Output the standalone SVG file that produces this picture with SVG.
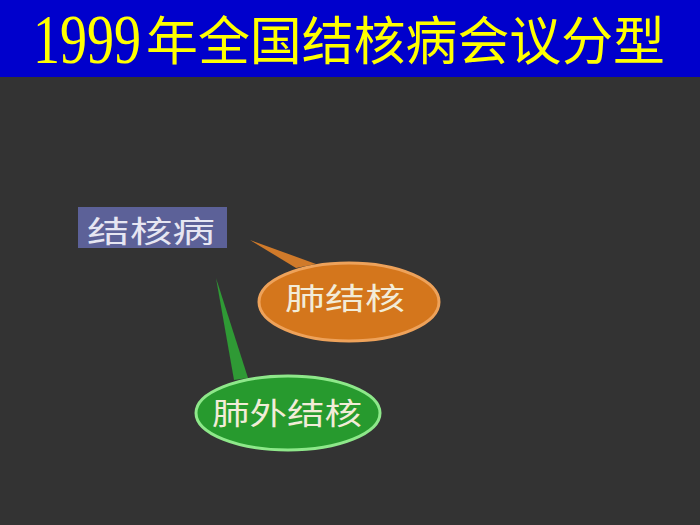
<svg xmlns="http://www.w3.org/2000/svg" width="700" height="525" viewBox="0 0 700 525">
<defs>
<style>
.title{font-family:"Noto Sans CJK SC","Liberation Serif",serif;font-size:52px;fill:#ffff00;}
.num{font-family:"Liberation Serif","Noto Sans CJK SC",serif;font-size:54px;fill:#ffff00;}
.lbl{font-family:"Noto Sans CJK SC","Noto Sans",sans-serif;font-size:30px;fill:#f2ecd8;}
</style>
</defs>
<rect x="0" y="0" width="700" height="525" fill="#333333"/>
<g id="title">
<rect x="0" y="0" width="700" height="77" fill="#0000cc"/>
<text class="num" x="0" y="0" transform="translate(33,63) scale(1,1.3)">1999</text>
<text class="title" x="146" y="60" textLength="519" lengthAdjust="spacingAndGlyphs">年全国结核病会议分型</text>
</g>
<g id="connectors">
<polygon points="250,240 296,268 316,264" fill="#d07a2a"/>
<polygon points="216,278 234,380 248,378" fill="#2f9a35"/>
</g>
<g id="node-root">
<rect x="78" y="207" width="149" height="41" fill="#5c6198"/>
<text class="lbl" x="87" y="242" textLength="128" lengthAdjust="spacingAndGlyphs" style="fill:#e6e6f2">结核病</text>
</g>
<g id="node-lung">
<ellipse cx="349" cy="302" rx="90" ry="39" fill="#d4761c" stroke="#eea25a" stroke-width="3"/>
<text class="lbl" x="285" y="309" textLength="120" lengthAdjust="spacingAndGlyphs">肺结核</text>
</g>
<g id="node-extra">
<ellipse cx="288" cy="413" rx="92" ry="37" fill="#279a2e" stroke="#8ee88a" stroke-width="3"/>
<text class="lbl" x="212" y="424" textLength="150" lengthAdjust="spacingAndGlyphs">肺外结核</text>
</g>
</svg>
